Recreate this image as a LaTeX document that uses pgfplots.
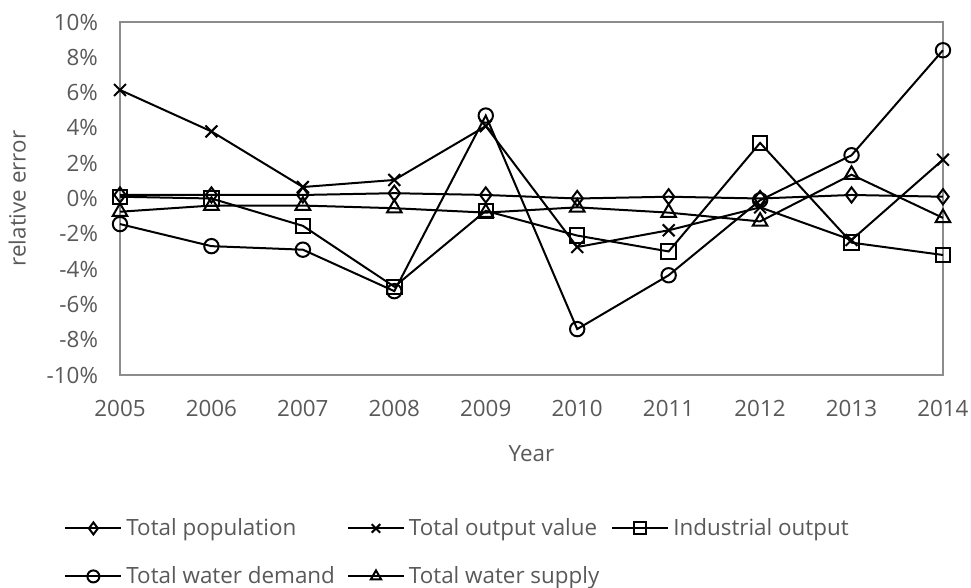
\documentclass[border=0pt]{standalone}
\usepackage{pgfplots}
\pgfplotsset{compat=1.18}
\usepackage{fontspec}
\setmainfont{Open Sans}
\definecolor{axgray}{HTML}{8C8C8C}
\definecolor{txtgray}{HTML}{595959}
\begin{document}
\begin{tikzpicture}
\begin{axis}[
  scale only axis,
  width=411.5pt, height=176.5pt,
  xmin=2005, xmax=2014, ymin=-10, ymax=10,
  xtick={2005,...,2014},
  xticklabels={2005,2006,2007,2008,2009,2010,2011,2012,2013,2014},
  ytick={-10,-8,...,10},
  yticklabels={-10\%,-8\%,-6\%,-4\%,-2\%,0\%,2\%,4\%,6\%,8\%,10\%},
  major tick length=0pt,
  axis line style={axgray, line width=0.8pt},
  tick label style={font=\fontsize{11.2pt}{13pt}\selectfont, text=txtgray},
  xticklabel style={yshift=-9pt},
  yticklabel style={xshift=-7.5pt},
  label style={font=\fontsize{11.2pt}{13pt}\selectfont, text=txtgray},
  xlabel={Year},
  ylabel={relative error},
  xlabel style={yshift=-7.5pt},
  ylabel style={yshift=3.5pt},
  clip=false,
  legend style={draw=none, fill=none, at={(rel axis cs:0,0)}, anchor=north west, xshift=-28pt, yshift=-69.5pt,
    font=\fontsize{11.2pt}{13pt}\selectfont, text=txtgray, inner sep=0pt,
    /tikz/every even column/.append style={column sep=4pt}, row sep=10pt},
  legend columns=3,
  legend cell align=left,
  legend image code/.code={%
    \draw[mark repeat=2,mark phase=2,mark size=3pt] plot coordinates {(0pt,0pt) (14pt,0pt) (28pt,0pt)};},
]
\addplot[black, line width=1pt, mark=diamond, mark size=3.8pt, mark options={solid, fill=none, line width=1pt}] coordinates {
(2005,0.2) (2006,0.2) (2007,0.2) (2008,0.3) (2009,0.2) (2010,0.0) (2011,0.1) (2012,0.0) (2013,0.2) (2014,0.1)};
\addlegendentry{Total population}
\addplot[black, line width=1pt, mark=x, mark size=4.2pt, mark options={solid, fill=none, line width=1pt}] coordinates {
(2005,6.15) (2006,3.8) (2007,0.65) (2008,1.05) (2009,4.1) (2010,-2.75) (2011,-1.8) (2012,-0.5) (2013,-2.35) (2014,2.2)};
\addlegendentry{Total output value}
\addplot[black, line width=1pt, mark=square, mark size=3.6pt, mark options={solid, fill=none, line width=1pt}] coordinates {
(2005,0.1) (2006,0.0) (2007,-1.55) (2008,-5.0) (2009,-0.7) (2010,-2.1) (2011,-3.0) (2012,3.15) (2013,-2.5) (2014,-3.2)};
\addlegendentry{Industrial output}
\addplot[black, line width=1pt, mark=o, mark size=3.6pt, mark options={solid, fill=none, line width=1pt}] coordinates {
(2005,-1.45) (2006,-2.7) (2007,-2.9) (2008,-5.25) (2009,4.7) (2010,-7.4) (2011,-4.35) (2012,-0.1) (2013,2.45) (2014,8.4)};
\addlegendentry{Total water demand}
\addplot[black, line width=1pt, mark=triangle, mark size=4.2pt, mark options={solid, fill=none, line width=1pt}] coordinates {
(2005,-0.75) (2006,-0.4) (2007,-0.4) (2008,-0.55) (2009,-0.8) (2010,-0.5) (2011,-0.8) (2012,-1.3) (2013,1.35) (2014,-1.1)};
\addlegendentry{Total water supply}
\coordinate (bl) at (rel axis cs:0,0);
\end{axis}
\pgfresetboundingbox
\path[use as bounding box] ([xshift=-60pt,yshift=-106.5pt]bl) rectangle ([xshift=425.5pt,yshift=187.5pt]bl);
\end{tikzpicture}
\end{document}
